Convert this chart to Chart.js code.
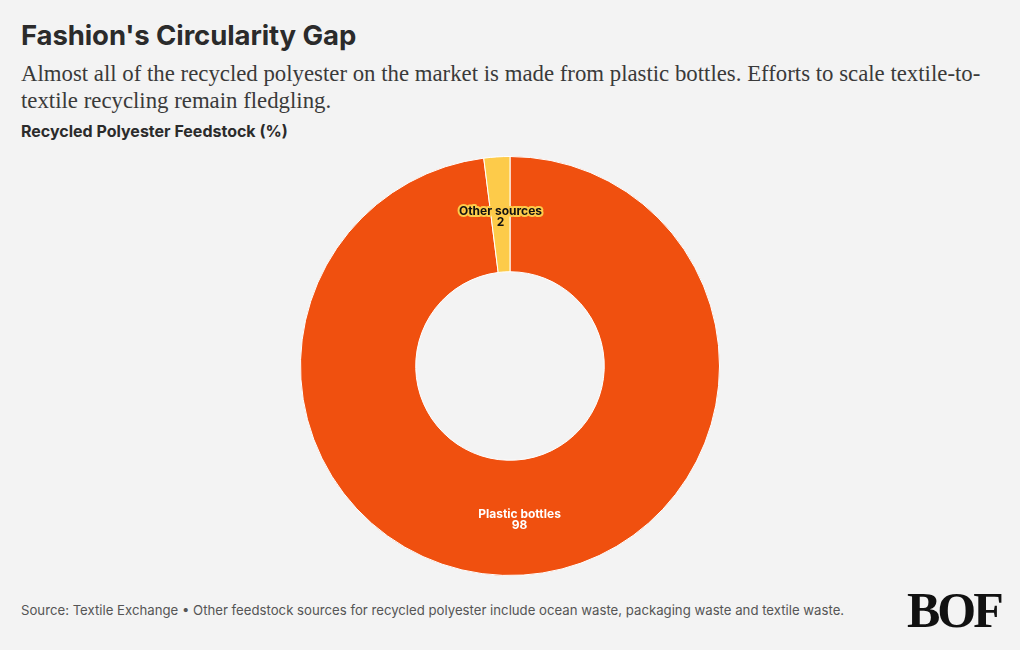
<!DOCTYPE html>
<html lang="en">
<head>
<meta charset="UTF-8">
<title>Fashion's Circularity Gap</title>
<style>
    html, body {
        margin: 0;
        padding: 0;
        background: #f3f3f3;
        width: 1020px;
        height: 650px;
        overflow: hidden;
    }
    .title {
        position: absolute;
        left: 21px;
        top: 18px;
        font-family: Inter, "Noto Sans", sans-serif;
        font-weight: 700;
        font-size: 27.5px;
        color: #2b2b2b;
        letter-spacing: -0.1px;
    }
    .subtitle {
        position: absolute;
        left: 21px;
        top: 60px;
        font-family: "Liberation Serif", serif;
        font-size: 22.8px;
        line-height: 27px;
        color: #3a3a3a;
        white-space: nowrap;
    }
    .axis-title {
        position: absolute;
        left: 21px;
        top: 121px;
        font-family: Inter, "Noto Sans", sans-serif;
        font-weight: 700;
        font-size: 16px;
        color: #2b2b2b;
    }
    #chart-container {
        position: absolute;
        left: 0;
        top: 156px;
        width: 1020px;
        height: 420px;
    }
    .source {
        position: absolute;
        left: 21px;
        top: 602px;
        font-family: Inter, "Noto Sans", sans-serif;
        font-size: 13.2px;
        color: #555;
    }
    .logo {
        position: absolute;
        left: 907px;
        top: 581px;
        font-family: "Liberation Serif", serif;
        font-weight: 700;
        font-size: 50px;
        color: #111;
        letter-spacing: -3px;
    }
</style>
</head>
<body>
<div class="title">Fashion's Circularity Gap</div>
<div class="subtitle">Almost all of the recycled polyester on the market is made from plastic bottles. Efforts to scale textile-to-<br>textile recycling remain fledgling.</div>
<div class="axis-title">Recycled Polyester Feedstock (%)</div>
<div id="chart-container"><canvas id="feedstockChart"></canvas></div>
<div class="source">Source: Textile Exchange • Other feedstock sources for recycled polyester include ocean waste, packaging waste and textile waste.</div>
<div class="logo">BOF</div>

<script src="https://cdn.jsdelivr.net/npm/chart.js"></script>
<script>
    const categories = ['Plastic bottles', 'Other sources'];
    const shares = [98, 2];
    const sliceColors = ['#f0500f', '#fdcb4a'];

    // labels drawn at the middle of each ring segment
    const sliceLabels = {
        id: 'sliceLabels',
        afterDatasetsDraw(chart) {
            const ctx = chart.ctx;
            const meta = chart.getDatasetMeta(0);
            meta.data.forEach(function (arc, i) {
                const pos = arc.tooltipPosition();
                ctx.save();
                ctx.font = 'bold 12px Inter, "Noto Sans", sans-serif';
                ctx.textAlign = 'center';
                ctx.textBaseline = 'middle';
                const lines = [categories[i], String(shares[i])];
                lines.forEach(function (txt, k) {
                    const y = pos.y - 3 + k * 11;
                    if (i === 1) {
                        // dark text with a yellow halo
                        ctx.lineJoin = 'round';
                        ctx.lineWidth = 4;
                        ctx.strokeStyle = '#fdcb4a';
                        ctx.strokeText(txt, pos.x, y);
                        ctx.fillStyle = '#111';
                    } else {
                        ctx.fillStyle = '#ffffff';
                    }
                    ctx.fillText(txt, pos.x, y);
                });
                ctx.restore();
            });
        }
    };

    new Chart(document.getElementById('feedstockChart'), {
        type: 'doughnut',
        data: {
            labels: categories,
            datasets: [{
                data: shares,
                backgroundColor: sliceColors,
                borderColor: '#ffffff',
                borderWidth: 1
            }]
        },
        options: {
            responsive: true,
            maintainAspectRatio: false,
            animation: false,
            cutout: '45%',
            layout: { padding: 0 },
            plugins: {
                legend: { display: false },
                tooltip: { enabled: false }
            }
        },
        plugins: [sliceLabels]
    });
</script>
</body>
</html>
